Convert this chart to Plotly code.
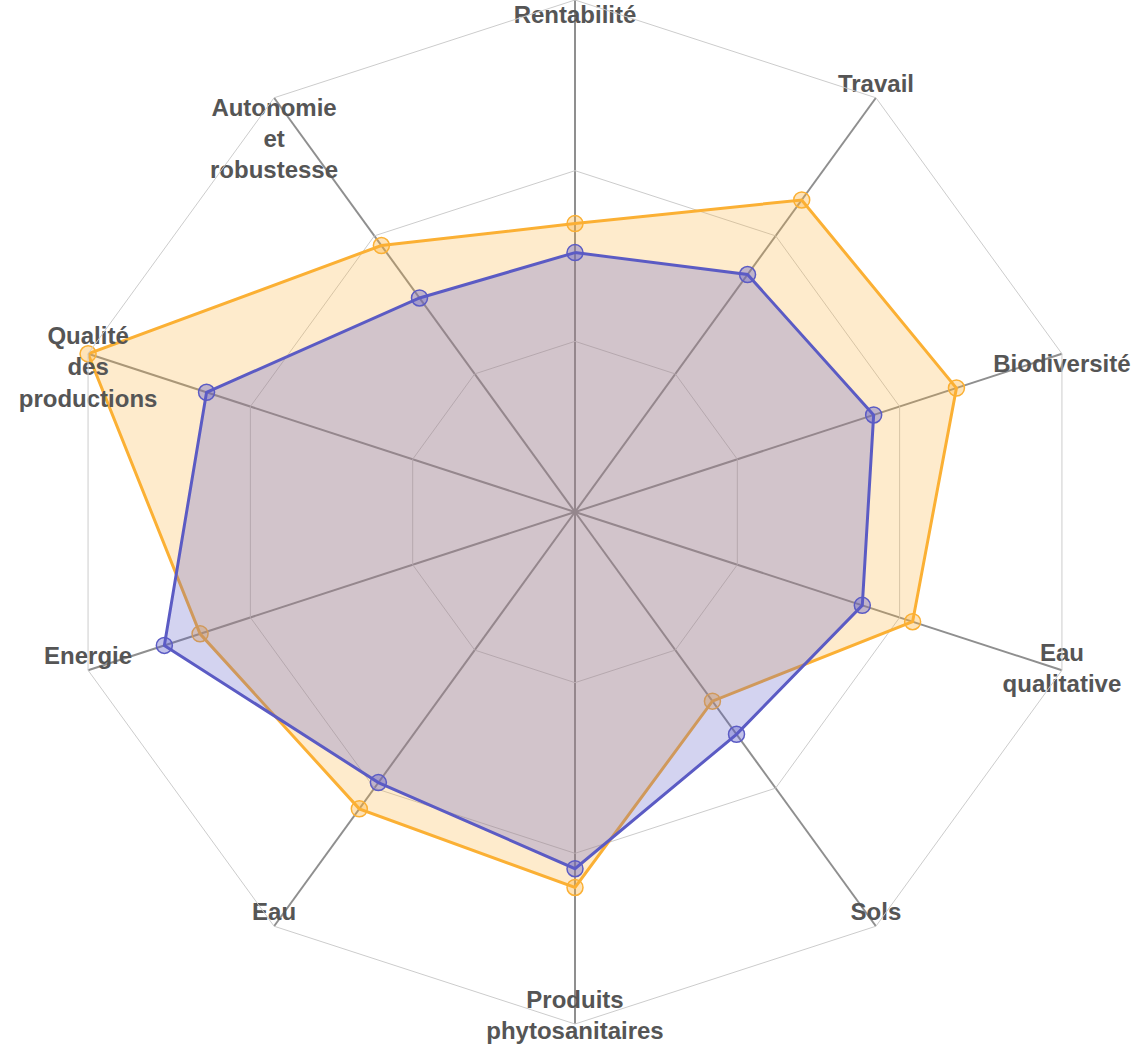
import plotly.graph_objects as go

categories = ["Rentabilité", "Travail", "Biodiversité", "Eau qualitative", "Sols",
              "Produits phytosanitaires", "Eau", "Energie", "Qualité des productions",
              "Autonomie et robustesse"]
axis_labels = ["Rentabilité", "Travail", "Biodiversité", "Eau<br>qualitative", "Sols",
               "Produits<br>phytosanitaires", "Eau", "Energie", "<br>Qualité<br>des<br>productions",
               "Autonomie<br>et<br>robustesse"]
serie_orange = [1.69, 2.26, 2.35, 2.08, 1.37, 2.20, 2.15, 2.31, 3.0, 1.93]
serie_bleue = [1.52, 1.72, 1.84, 1.77, 1.61, 2.09, 1.96, 2.53, 2.27, 1.55]
r_max = 3
grid_vals = [1, 2]

# label placement (style only)
label_r = [2.9, 3, 3, 3, 3, 2.96, 3, 3, 3, 3]
label_pos = ["middle center", "top center", "bottom center", "middle center", "top center",
             "middle center", "top center", "top center", "middle center", "bottom center"]

ORANGE = "#FBB034"
BLUE = "#5B5BC4"

def closed(v):
    return list(v) + [v[0]]

fig = go.Figure()

for vals, col, fillc, mfill in [
    (serie_orange, ORANGE, "rgba(251,176,52,0.25)", "rgba(251,176,52,0.35)"),
    (serie_bleue, BLUE, "rgba(92,92,200,0.27)", "rgba(92,92,200,0.38)"),
]:
    fig.add_trace(go.Scatterpolar(
        r=closed(vals), theta=closed(categories), mode="lines", fill="toself",
        fillcolor=fillc, line=dict(color=col, width=3), hoverinfo="skip",
        showlegend=False))
    fig.add_trace(go.Scatterpolar(
        r=vals, theta=categories, mode="markers",
        marker=dict(size=16, color=mfill, line=dict(color=col, width=1.5)),
        showlegend=False))

fig.add_trace(go.Scatterpolar(
    r=label_r, theta=categories, mode="text", text=axis_labels,
    textposition=label_pos, cliponaxis=False,
    textfont=dict(family="Arial, Liberation Sans, sans-serif", size=24, color="#555555",
                  weight="bold"),
    hoverinfo="skip", showlegend=False))

fig.update_layout(
    width=1145, height=1051,
    margin=dict(l=0, r=0, t=0, b=0),
    paper_bgcolor="white",
    polar=dict(
        domain=dict(x=[5 / 1145, 1], y=[27 / 1051, 1]),
        bgcolor="white",
        gridshape="linear",
        radialaxis=dict(range=[0, r_max], tickvals=grid_vals, showticklabels=False,
                        ticks="", showline=False, gridcolor="#cccccc", gridwidth=1),
        angularaxis=dict(categoryarray=categories, type="category", direction="clockwise",
                         rotation=90, showticklabels=False, ticks="", showline=True,
                         linecolor="#cccccc", linewidth=1, gridcolor="#8f8f8f", gridwidth=1.5),
    ),
)

fig.write_html("out.html", config={"displayModeBar": False},
               post_script="document.body.style.margin='0';document.body.style.overflow='hidden';")
